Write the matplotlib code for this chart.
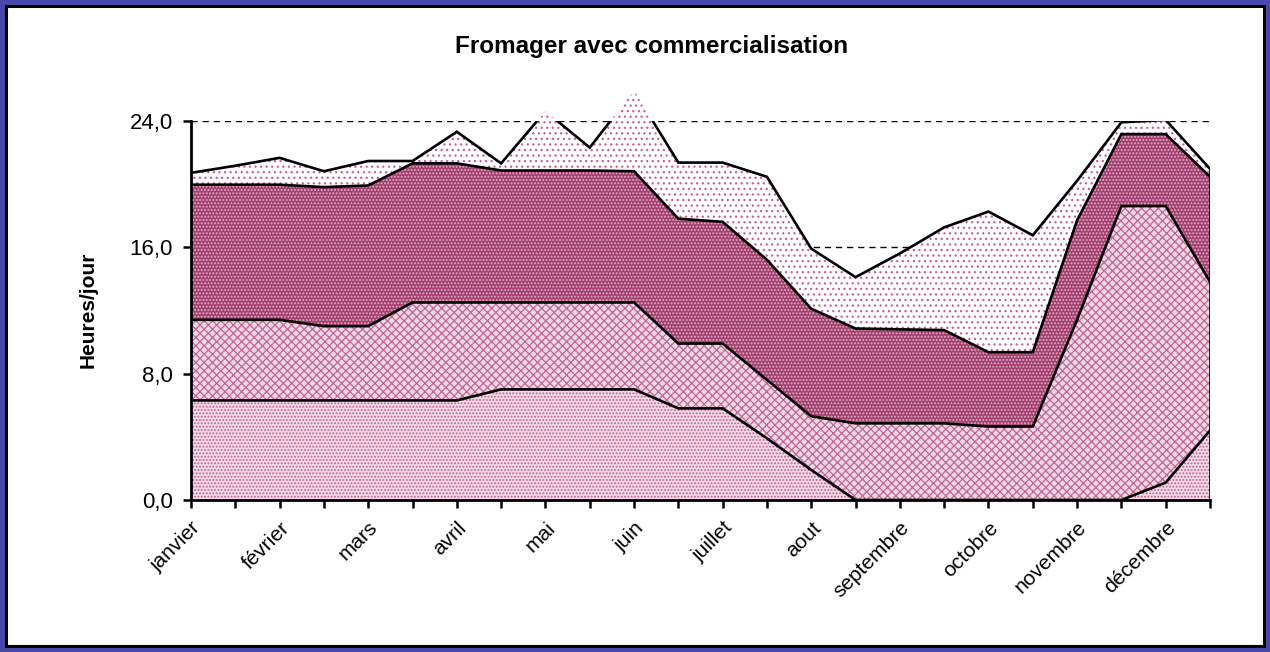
import matplotlib
matplotlib.use("Agg")
import matplotlib.pyplot as plt
from matplotlib.patches import Rectangle
import numpy as np

plt.rcParams['font.family'] = ['Liberation Sans', 'DejaVu Sans']
plt.rcParams['hatch.linewidth'] = 0.9

# ---- data (24 half-month points) ----
months = ["janvier", "février", "mars", "avril", "mai", "juin", "juillet",
          "aout", "septembre", "octobre", "novembre", "décembre"]
serie1 = [6.3, 6.3, 6.3, 6.3, 6.3, 6.3, 6.3, 7.0, 7.0, 7.0, 7.0, 5.8,
          5.8, 3.9, 1.9, 0.0, 0.0, 0.0, 0.0, 0.0, 0.0, 0.0, 1.1, 4.4]
serie2 = [5.1, 5.1, 5.1, 4.7, 4.7, 6.2, 6.2, 5.5, 5.5, 5.5, 5.5, 4.1,
          4.1, 3.7, 3.4, 4.85, 4.85, 4.85, 4.65, 4.65, 11.4, 18.6, 17.5, 9.4]
serie3 = [8.55, 8.55, 8.55, 8.8, 8.9, 8.8, 8.8, 8.35, 8.35, 8.35, 8.3, 7.9,
          7.7, 7.6, 6.8, 6.0, 5.95, 5.9, 4.7, 4.7, 6.3, 4.55, 4.55, 6.65]
serie4 = [0.75, 1.2, 1.7, 1.0, 1.55, 0.15, 2.0, 0.45, 3.75, 1.45, 5.1, 3.55,
          3.75, 5.25, 3.8, 3.25, 4.8, 6.5, 8.9, 7.4, 2.5, 0.75, 0.9, 0.5]
ytick_vals = [0, 8, 16, 24]
ytick_labels = ["0,0", "8,0", "16,0", "24,0"]
title = "Fromager avec commercialisation"
ylabel = "Heures/jour"

W, H = 1270, 652
fig = plt.figure(figsize=(W / 100, H / 100), dpi=100)
fig.patch.set_facecolor('#4848AA')
fig.patches.append(Rectangle((6 / W, 6 / H), (W - 12) / W, (H - 12) / H,
                             transform=fig.transFigure, facecolor='white',
                             edgecolor='black', linewidth=2.2, zorder=-10))

ax = fig.add_axes([191 / W, (H - 500) / H, (1210 - 191) / W, (500 - 120.7) / H])
ax.set_zorder(2)
ax.set_facecolor('none')

x = np.arange(len(serie1))
series = [serie1, serie2, serie3, serie4]
styles = [
    dict(facecolor='#F1D9E5', edgecolor='#C0608F', hatch='.....'),
    dict(facecolor='#EFD6E3', edgecolor='#BF6695', hatch='xxxx'),
    dict(facecolor='#A2416F', edgecolor='#E3AFC9', hatch='.....'),
    dict(facecolor='white', edgecolor='#C4639A', hatch='...'),
]
bottom = np.zeros(len(x))
tops = []
for s, st in zip(series, styles):
    top = bottom + np.array(s)
    ax.fill_between(x, bottom, top, linewidth=0, clip_on=False, zorder=2, **st)
    tops.append(top)
    bottom = top
for top in tops:
    ax.plot(x, top, color='black', linewidth=1.9, zorder=4, solid_joinstyle='miter')
ax.plot([x[-1], x[-1]], [0, tops[-1][-1]], color='black', linewidth=1.9, zorder=4)

ax.set_xlim(0, len(x) - 1)
ax.set_ylim(0, 24)
ax.set_yticks(ytick_vals, labels=ytick_labels)
xt_labels = []
for m in months:
    xt_labels += [m, ""]
ax.set_xticks(x, labels=xt_labels)
for lab in ax.get_xticklabels():
    lab.set_rotation(45)
    lab.set_ha('right')
    lab.set_rotation_mode('anchor')
ax.tick_params(axis='x', length=6, width=1.8, labelsize=15, pad=7, direction='out')
ax.tick_params(axis='y', length=6, width=1.8, labelsize=16, pad=7, direction='out')

ax.yaxis.grid(True, linestyle=(0, (4.5, 3.5)), color='black', linewidth=1.0, zorder=1)
ax.set_axisbelow(True)
for sp in ['top', 'right']:
    ax.spines[sp].set_visible(False)
for sp in ['left', 'bottom']:
    ax.spines[sp].set_linewidth(2.0)
    ax.spines[sp].set_zorder(5)

fig.text(652 / W, 1 - 46 / H, title, ha='center', va='center',
         fontsize=17.5, fontweight='bold')
fig.text(88 / W, 1 - 310 / H, ylabel, ha='center', va='center',
         rotation=90, fontsize=15, fontweight='bold')

fig.savefig("out.png", dpi=100, facecolor=fig.get_facecolor())
